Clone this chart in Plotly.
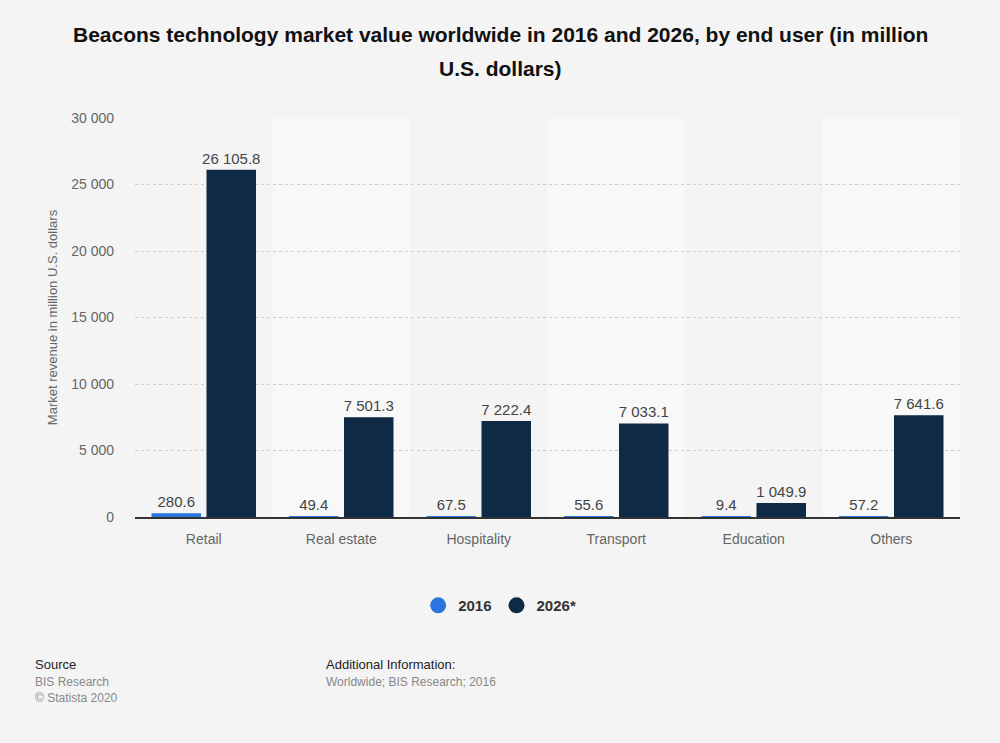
import plotly.graph_objects as go

categories = ["Retail", "Real estate", "Hospitality", "Transport", "Education", "Others"]
values_2016 = [280.6, 49.4, 67.5, 55.6, 9.4, 57.2]
values_2026 = [26105.8, 7501.3, 7222.4, 7033.1, 1049.9, 7641.6]
series_names = ["2016", "2026*"]
colors = ["#2876dd", "#0f2a45"]
y_ticks = [0, 5000, 10000, 15000, 20000, 25000, 30000]
title_lines = ["Beacons technology market value worldwide in 2016 and 2026, by end user (in million",
               "U.S. dollars)"]


def fmt(v):
    s = f"{v:,.1f}".replace(",", " ")
    return s


fig = go.Figure()
for name, vals, col in zip(series_names, [values_2016, values_2026], colors):
    fig.add_trace(go.Bar(
        x=categories, y=vals, name=name, marker_color=col, marker_line_width=0,
        text=[fmt(v) for v in vals], textposition="outside", cliponaxis=False,
        constraintext="none",
        textfont=dict(size=15, color="#444444", family="Liberation Sans, Arial"),
        showlegend=False,
    ))
    fig.add_trace(go.Scatter(
        x=[None], y=[None], mode="markers", name=name,
        marker=dict(symbol="circle", size=17, color=col),
    ))

# alternating background bands
for i in range(1, len(categories), 2):
    fig.add_shape(type="rect", xref="x", yref="paper", x0=i - 0.5, x1=i + 0.5,
                  y0=0, y1=1, fillcolor="#f8f8f8", line_width=0, layer="below")

fig.update_layout(
    width=1000, height=743,
    paper_bgcolor="#f4f4f4", plot_bgcolor="#f4f4f4",
    font=dict(family="Liberation Sans, Arial", color="#666666"),
    separators=". ",
    margin=dict(l=135, r=40, t=118, b=226),
    barmode="group", bargap=0.2, bargroupgap=0.1,
    legend=dict(orientation="h", x=0.442, xanchor="center", y=-0.222, yanchor="middle",
                font=dict(size=15, color="#333333", weight="bold"), bgcolor="rgba(0,0,0,0)",
                itemwidth=30, traceorder="normal"),
    xaxis=dict(showline=True, linecolor="#333333", linewidth=1.5, ticks="",
               tickfont=dict(size=14, color="#666666"), showgrid=False,
               ticklabelstandoff=8),
    yaxis=dict(range=[0, 30000], tickvals=y_ticks, tickformat=",d",
               showgrid=True, gridcolor="#cccccc", griddash="dot", gridwidth=1,
               zeroline=False, ticks="", tickfont=dict(size=14, color="#666666"),
               ticklabelstandoff=20,
               title=dict(text="Market revenue in million U.S. dollars",
                          font=dict(size=13, color="#666666"), standoff=10)),
)

for k, line in enumerate(title_lines):
    fig.add_annotation(xref="paper", yref="paper", x=(500 - 135) / 825, xanchor="center",
                       y=1 + (118 - 35 - 33 * k) / 399, yanchor="middle",
                       text=f"<b>{line}</b>", showarrow=False,
                       font=dict(size=21, color="#111111"))

fig.add_annotation(xref="paper", yref="paper", x=-0.1236, y=-0.345, xanchor="left", yanchor="top",
                   text="Source", showarrow=False, font=dict(size=13, color="#222222"))
fig.add_annotation(xref="paper", yref="paper", x=-0.1236, y=-0.39, xanchor="left", yanchor="top",
                   align="left", text="BIS Research<br>© Statista 2020", showarrow=False,
                   font=dict(size=12, color="#888888"))
fig.add_annotation(xref="paper", yref="paper", x=0.229, y=-0.345, xanchor="left", yanchor="top",
                   text="Additional Information:", showarrow=False, font=dict(size=13, color="#222222"))
fig.add_annotation(xref="paper", yref="paper", x=0.229, y=-0.39, xanchor="left", yanchor="top",
                   text="Worldwide; BIS Research; 2016", showarrow=False,
                   font=dict(size=12, color="#888888"))

fig.write_html("out.html")
